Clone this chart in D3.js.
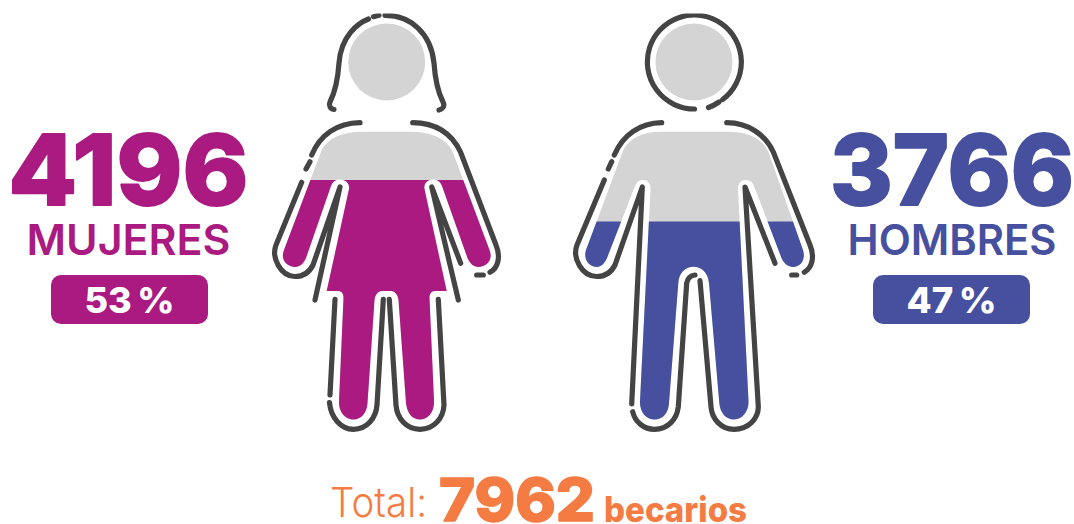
<!DOCTYPE html>
<html><head><meta charset="utf-8">
<script src="https://cdn.jsdelivr.net/npm/d3@7"></script>
<style>html,body{margin:0;background:#fff}svg{display:block}text{font-family:Inter,Roboto,sans-serif}</style>
</head><body><svg id="c" width="1074" height="524"></svg>
<script>
const genders = ["MUJERES", "HOMBRES"];
const counts = [4196, 3766];
const shares = [53, 47];
const total = 7962;
const colors = ["#AA1A80", "#46509F"];

const womanBody = "M362 131.7C342 131.7 328 138 321.7 150L284 250C280 260 287 267 295 267C300 267 304 263 306 258L331 186C333 181 336 179.5 340 179.5C345 179.5 350 183 349 189L326.7 291L338 291C342 291 343.5 294 343.5 298L339 401C338.5 412 345 419.5 353.5 419.5C361 419.5 367 413 367.5 403L374.5 300C375 295 378 291 382 291L391 291C395 291 398 295 398.5 300L406 403C407 413 412 419.5 420 419.5C428 419.5 434.5 412 434 401L429.5 298C429.5 294 431 291 435 291L446.7 291L424.5 189C423.5 183 428 179.5 433 179.5C437 179.5 440 181 442 186L467.5 258C469.5 263 473.5 267 478.5 267C486.5 267 493.5 260 489.5 250L452 150C445 138 431 131.7 411 131.7Z";
const womanLines = [
 "M334 109.5C330 109 328.5 105 330 102C335 92 338 78 339 63C341 36 358 23 368.5 19",
 "M373.5 16.7L379 15.3",
 "M385 15.3C410 15 431 33 434 63C435 78 438 92 443 102C445 106 443 109 439 110",
 "M360 122.7C337 123 320 135 311.7 155",
 "M310 161.7L306 169",
 "M301.7 182.3L276 245C271 258 281 276.5 295 276.5C303 276.5 309 273 313 265L340 187L315 300",
 "M412.7 122.7C436 123 452 134 460.5 152L496 245C501 257 498 268 490 272.3",
 "M476.7 275L483.3 275",
 "M460.7 263.3L431.7 187L458.3 300",
 "M335 299.3L330 395",
 "M329.5 402.7C331 418 341 429.3 353.5 429.3C367 429.3 376 418 377 405L383.3 299.3",
 "M389.3 299.3L396 405C397 418 406 429.3 420 429.3C434 429.3 443.5 418 444 405L438.3 299.3"
];
const manBody = "M660 131.7C642 131.7 630 138 623.3 150L586 250C583 259 589 267 597 267C601 267 605 263 607 258L635 186C637 182 639 180 643 180C648 180 651 184 650.5 189L640 401C639.5 412 646 419.5 654.5 419.5C663 419.5 668.5 413 669 403L678.3 283C679 273 685 266.7 693.5 266.7C702 266.7 708 273 709 283L719.3 403C720 413 726 419.5 734 419.5C742 419.5 749 412 748.5 401L738 189C737.5 184 741 180 746 180C750 180 752.5 182 754 186L781.5 258C783.5 263 788 267 793 267C801 267 806 259 803 250L768.5 152C762 138 748 131.7 728 131.7Z";
const manLines = [
 "M694.5 109A47 47 0 1 1 722.7 99.5",
 "M708.5 107.5A47 47 0 0 0 719 102",
 "M661.7 122.7C640 123 623 135 614.3 155",
 "M611.7 161.7L608.3 169",
 "M604.3 180L577 245C572 258 582 276.5 596.7 276.5C605 276.5 611 273 615 265L642.3 187L631.7 404",
 "M632.7 411.7C635 422 644 429.3 654.5 429.3C668 429.3 677 419 678.3 406.7L686.7 283C687.5 279 690 275.5 695 275",
 "M700 280.7L711 406.7C712 419 721 429.3 734 429.3C748 429.3 758.5 419 758.3 406.7L745 187L775 263.3",
 "M726.7 122.7C748 123 765 134 773.3 152L810 245C815 257 812 268 804.3 272.3",
 "M791.7 275L796.7 275"
];

const svg = d3.select("#c");
const y = d3.scaleLinear().domain([47, 53]).range([221.5, 180]);
const head = d3.scaleOrdinal().domain(genders).range([386.7, 694]);
const figures = [womanBody, manBody];
const outlines = [womanLines, manLines];
const defs = svg.append("defs");
defs.append("clipPath").attr("id", "top").append("rect").attr("x", 0).attr("y", 13.5).attr("width", 1074).attr("height", 520);

const fig = svg.selectAll("g.fig").data(genders).join("g").attr("class", "fig");
fig.each(function (g, i) {
  const s = d3.select(this);
  defs.append("clipPath").attr("id", "lvl" + i).append("rect")
    .attr("x", 0).attr("y", y(shares[i])).attr("width", 1074).attr("height", 524 - y(shares[i]));
  s.append("circle").attr("cx", head(g)).attr("cy", 62).attr("r", 38.5).attr("fill", "#D4D4D4");
  s.append("path").attr("d", figures[i]).attr("fill", "#D4D4D4");
  s.append("path").attr("d", figures[i]).attr("fill", colors[i]).attr("clip-path", `url(#lvl${i})`);
  s.append("g").attr("clip-path", "url(#top)").selectAll("path").data(outlines[i]).join("path")
    .attr("d", d => d).attr("fill", "none").attr("stroke", "#444").attr("stroke-width", 5.2)
    .attr("stroke-linecap", "round").attr("stroke-linejoin", "round");
});

const label = d3.scaleOrdinal().domain(genders).range([128.5, 952]);
const numW = [240, 244], nameW = [204, 209], pctW = [90, 90], boxX = [51, 873];
genders.forEach((g, i) => {
  const c = colors[i], x = label(g);
  svg.append("text").attr("x", x).attr("y", 204.5).attr("text-anchor", "middle").attr("fill", c)
    .attr("font-size", 98).attr("font-weight", 800).attr("stroke", c).attr("stroke-width", 2).attr("stroke-linejoin", "round")
    .attr("textLength", numW[i]).attr("lengthAdjust", "spacingAndGlyphs").text(counts[i]);
  svg.append("text").attr("x", x).attr("y", 255).attr("text-anchor", "middle").attr("fill", c)
    .attr("font-size", 42.5).attr("font-weight", 600)
    .attr("textLength", nameW[i]).attr("lengthAdjust", "spacingAndGlyphs").text(g);
  svg.append("rect").attr("x", boxX[i]).attr("y", 275).attr("width", 157).attr("height", 49).attr("rx", 10).attr("fill", c);
  svg.append("text").attr("x", boxX[i] + 78.5).attr("y", 313).attr("text-anchor", "middle").attr("fill", "#fff")
    .attr("font-size", 36).attr("font-weight", 800)
    .attr("textLength", pctW[i]).attr("lengthAdjust", "spacingAndGlyphs").text(shares[i] + "\u2009%");
});

const orange = "#F47C43";
svg.append("text").attr("x", 330).attr("y", 516.5).attr("fill", orange).attr("font-size", 41).attr("font-weight", 300)
  .attr("textLength", 97).attr("lengthAdjust", "spacingAndGlyphs").text("Total:");
svg.append("text").attr("x", 439).attr("y", 520.5).attr("fill", orange).attr("font-size", 59).attr("font-weight", 800)
  .attr("stroke", orange).attr("stroke-width", 1.5).attr("stroke-linejoin", "round")
  .attr("textLength", 156).attr("lengthAdjust", "spacingAndGlyphs").text(total);
svg.append("text").attr("x", 604).attr("y", 522).attr("fill", orange).attr("font-size", 35).attr("font-weight", 800)
  .attr("textLength", 143).attr("lengthAdjust", "spacingAndGlyphs").text("becarios");
</script></body></html>
